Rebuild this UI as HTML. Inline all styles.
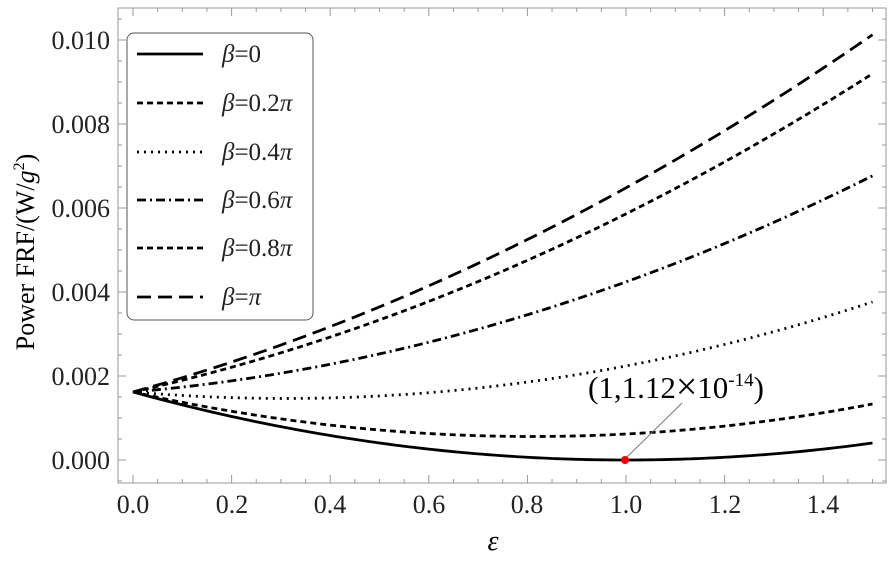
<!DOCTYPE html>
<html><head><meta charset="utf-8">
<style>
html,body{margin:0;padding:0;background:#fff;}
svg{display:block;font-family:"Liberation Serif",serif;}
</style></head>
<body>
<svg id="s" width="896" height="563" xmlns="http://www.w3.org/2000/svg">
<rect x="0" y="0" width="896" height="563" fill="#fff"/>
<rect x="118" y="8" width="768" height="475" fill="none" stroke="#999" stroke-width="1"/>
<g id="ticks" stroke="#999" stroke-width="1"></g>
<g font-size="26" fill="#222" text-anchor="end">
<text x="110" y="49">0.010</text>
<text x="110" y="133">0.008</text>
<text x="110" y="217">0.006</text>
<text x="110" y="301">0.004</text>
<text x="110" y="385">0.002</text>
<text x="110" y="469">0.000</text>
</g>
<g font-size="26" fill="#222" text-anchor="middle">
<text x="133" y="513">0.0</text>
<text x="232" y="513">0.2</text>
<text x="330" y="513">0.4</text>
<text x="429" y="513">0.6</text>
<text x="527" y="513">0.8</text>
<text x="626" y="513">1.0</text>
<text x="725" y="513">1.2</text>
<text x="823" y="513">1.4</text>
</g>
<text x="493" y="550" font-size="28" font-style="italic" text-anchor="middle">ε</text>
<text transform="translate(34,252) rotate(-90)" font-size="26" text-anchor="middle">Power FRF/(W/<tspan font-style="italic">g</tspan><tspan dy="-10" font-size="16">2</tspan><tspan dy="10">)</tspan></text>
<g id="curves" fill="none" stroke="#000" stroke-width="2.8"></g>
<line x1="682" y1="403" x2="626" y2="458" stroke="#777" stroke-width="1"/>
<circle cx="625" cy="460" r="4" fill="#e00"/>
<text x="588" y="398" font-size="31">(1,1.12<tspan font-size="38" dy="1">×</tspan><tspan dy="-1">10</tspan><tspan dy="-12" font-size="19">-14</tspan><tspan dy="12">)</tspan></text>
<rect x="127" y="33" width="186" height="287" rx="7" fill="#fff" stroke="#555" stroke-width="1"/>
<g id="leg" stroke="#000" stroke-width="2.8"></g>
<g font-size="25" fill="#222">
<text x="222" y="62"><tspan font-style="italic">β</tspan>=0</text>
<text x="222" y="111"><tspan font-style="italic">β</tspan>=0.2<tspan font-style="italic">π</tspan></text>
<text x="222" y="160"><tspan font-style="italic">β</tspan>=0.4<tspan font-style="italic">π</tspan></text>
<text x="222" y="208"><tspan font-style="italic">β</tspan>=0.6<tspan font-style="italic">π</tspan></text>
<text x="222" y="256"><tspan font-style="italic">β</tspan>=0.8<tspan font-style="italic">π</tspan></text>
<text x="222" y="305"><tspan font-style="italic">β</tspan>=<tspan font-style="italic">π</tspan></text>
</g>
</svg>
<script>
var NS="http://www.w3.org/2000/svg";
function el(p,t,a){var e=document.createElementNS(NS,t);for(var k in a)e.setAttribute(k,a[k]);document.getElementById(p).appendChild(e);}
function X(e){return 133+493*e;} function Y(v){return 460-42000*v;}
for(var i=0;i<=30;i++){var e=i*0.05,x=X(e);if(x>886)break;var L=i%4==0?8:4;
el("ticks","line",{x1:x,y1:483,x2:x,y2:483-L});el("ticks","line",{x1:x,y1:8,x2:x,y2:8+L});}
for(var i=-1;i<=21;i++){var v=i*0.0005,y=Y(v);if(y<8||y>483)continue;var L=i%4==0?8:4;
el("ticks","line",{x1:118,y1:y,x2:118+L,y2:y});el("ticks","line",{x1:886,y1:y,x2:886-L,y2:y});}
var styles=[[0,""],[0.2,"6,4"],[0.4,"2,5"],[0.6,"9,4,2,4"],[0.8,"6,4"],[1,"14,7"]];
styles.forEach(function(s,idx){var c=Math.cos(s[0]*Math.PI),d="";
for(var k=0;k<=150;k++){var e=k*0.01,v=0.00162*(1+e*e-2*e*c);d+=(k?"L":"M")+X(e).toFixed(2)+","+Y(v).toFixed(2);}
var a={d:d};if(s[1])a["stroke-dasharray"]=s[1];el("curves","path",a);
var ly=[54,103,152,200,248,297][idx];var b={x1:137,y1:ly,x2:203,y2:ly};if(s[1])b["stroke-dasharray"]=s[1];el("leg","line",b);});
</script>
</body></html>
